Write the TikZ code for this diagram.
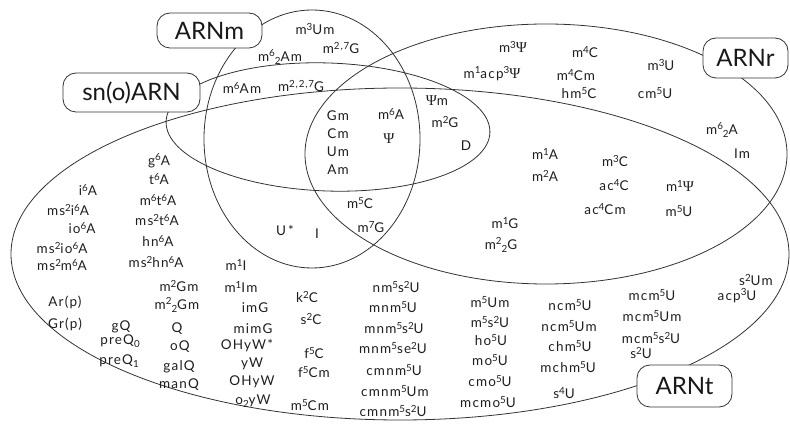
\documentclass[tikz,border=0pt]{standalone}
\usepackage{fontspec}
\setmainfont{Lato}
\newfontfamily\smallf[LetterSpace=9]{Lato}
\newfontfamily\psifont{Liberation Serif}
\newcommand\sps[1]{\raisebox{0.36em}{\fontsize{9.8}{10}\selectfont #1}}
\newcommand\sbs[1]{\raisebox{-0.22em}{\fontsize{9.8}{10}\selectfont #1}}
\newcommand\mypsi{{\psifont\fontsize{15}{15}\selectfont Ψ}}
\tikzset{
  ell/.style={draw=black!80, line width=0.8pt},
  lbl/.style={draw=black!80, line width=0.8pt, fill=white, rounded corners=13pt,
    font=\fontsize{24}{28}\selectfont, text=black!90, inner sep=0pt},
  txt/.style={font=\smallf\fontsize{13.5}{15}\selectfont, text=black!88, inner sep=0pt}
}
\begin{document}
\begin{tikzpicture}[x=1pt,y=-1pt]
\useasboundingbox (0,0) rectangle (790,427);
% ellipses
\draw[ell] (400,254) ellipse [x radius=389pt, y radius=166pt];
\draw[ell] (546,154) ellipse [x radius=241pt, y radius=130pt];
\draw[ell] (312,139) ellipse [x radius=108pt, y radius=129pt];
\draw[ell, rotate around={-2:(328,127)}] (328,127) ellipse [x radius=162pt, y radius=64pt];
% labels
\node[lbl, minimum width=105pt, minimum height=35pt] (arnm) at (209.5,30.5) {ARNm};
\node[lbl, minimum width=137pt, minimum height=39pt] (snoarn) at (131.5,92.5) {sn(o)ARN};
\node[lbl, minimum width=85pt, minimum height=40pt] (arnr) at (745.5,58) {ARNr};
\node[lbl, minimum width=95pt, minimum height=42pt] (arnt) at (684.5,386) {ARNt};
% top
\node[txt] (a1) at (315,29) {m\sps{3}Um};
\node[txt] (a2) at (341,48) {m\sps{2,7}G};
\node[txt] (a3) at (280,57) {m\sps{6}\sbs{2}Am};
\node[txt] (a4) at (242,88) {m\sps{6}Am};
\node[txt] (a5) at (301,86) {m\sps{2,2,7}G};
% top right
\node[txt] (b1) at (513,47) {m\sps{3}\mypsi};
\node[txt] (b2) at (585,52) {m\sps{4}C};
\node[txt] (b3) at (661,65) {m\sps{3}U};
\node[txt] (b4) at (492,74) {m\sps{1}acp\sps{3}\mypsi};
\node[txt] (b5) at (576,75) {m\sps{4}Cm};
\node[txt] (b6) at (579,93) {hm\sps{5}C};
\node[txt] (b7) at (655,93) {cm\sps{5}U};
% centre
\node[txt] (c1) at (437,101) {\mypsi m};
\node[txt] (c2) at (445,122) {m\sps{2}G};
\node[txt] (c3) at (466,146) {D};
\node[txt] (c4) at (338,116) {Gm};
\node[txt] (c5) at (338,134) {Cm};
\node[txt] (c6) at (338,152) {Um};
\node[txt] (c7) at (338,170) {Am};
\node[txt] (c8) at (391,114) {m\sps{6}A};
\node[txt] (c9) at (389,139) {\mypsi};
\node[txt] (c10) at (360,203) {m\sps{5}C};
\node[txt] (c11) at (371,227) {m\sps{7}G};
\node[txt] (c12) at (285,230) {U\,*};
\node[txt] (c13) at (317,234) {I};
% right middle
\node[txt] (d1) at (722,130) {m\sps{6}\sbs{2}A};
\node[txt] (d2) at (742,154) {Im};
\node[txt] (d3) at (545,154) {m\sps{1}A};
\node[txt] (d4) at (545,176) {m\sps{2}A};
\node[txt] (d5) at (615,161) {m\sps{3}C};
\node[txt] (d6) at (614,185) {ac\sps{4}C};
\node[txt] (d7) at (605,209) {ac\sps{4}Cm};
\node[txt] (d8) at (680,186) {m\sps{1}\mypsi};
\node[txt] (d9) at (679,211) {m\sps{5}U};
\node[txt] (d10) at (505,223) {m\sps{1}G};
\node[txt] (d11) at (501,245) {m\sps{2}\sbs{2}G};
% left
\node[txt] (e1) at (159,161) {g\sps{6}A};
\node[txt] (e2) at (159,179) {t\sps{6}A};
\node[txt] (e3) at (158,200) {m\sps{6}t\sps{6}A};
\node[txt] (e4) at (157,220) {ms\sps{2}t\sps{6}A};
\node[txt] (e5) at (158,241) {hn\sps{6}A};
\node[txt] (e6) at (156,262) {ms\sps{2}hn\sps{6}A};
\node[txt] (e7) at (88,190) {i\sps{6}A};
\node[txt] (e8) at (68,210) {ms\sps{2}i\sps{6}A};
\node[txt] (e9) at (82,228) {io\sps{6}A};
\node[txt] (e10) at (62,248) {ms\sps{2}io\sps{6}A};
\node[txt] (e11) at (62,265) {ms\sps{2}m\sps{6}A};
\node[txt] (e12) at (236,265) {m\sps{1}I};
\node[txt] (e13) at (179,286) {m\sps{2}Gm};
\node[txt] (e14) at (241,287) {m\sps{1}Im};
% bottom left
\node[txt] (f1) at (65,302) {Ar(p)};
\node[txt] (f2) at (65,324) {Gr(p)};
\node[txt] (f3) at (177,305) {m\sps{2}\sbs{2}Gm};
\node[txt] (f4) at (121,327) {gQ};
\node[txt] (f5) at (177,329) {Q};
\node[txt] (f6) at (120,341) {preQ\sbs{0}};
\node[txt] (f7) at (180,347) {oQ};
\node[txt] (f8) at (119,361) {preQ\sbs{1}};
\node[txt] (f9) at (179,367) {galQ};
\node[txt] (f10) at (179,385) {manQ};
\node[txt] (f11) at (255,308) {imG};
\node[txt] (f12) at (253,329) {mimG};
\node[txt] (f13) at (247,346) {OHyW*};
\node[txt] (f14) at (252,364) {yW};
\node[txt] (f15) at (252,382) {OHyW};
\node[txt] (f16) at (253,401) {o\sbs{2}yW};
\node[txt] (f17) at (307,297) {k\sps{2}C};
\node[txt] (f18) at (311,319) {s\sps{2}C};
\node[txt] (f19) at (314,353) {f\sps{5}C};
\node[txt] (f20) at (314,372) {f\sps{5}Cm};
\node[txt] (f21) at (310,405) {m\sps{5}Cm};
% bottom middle
\node[txt] (g1) at (396,287) {nm\sps{5}s\sps{2}U};
\node[txt] (g2) at (393,307) {mnm\sps{5}U};
\node[txt] (g3) at (394,328) {mnm\sps{5}s\sps{2}U};
\node[txt] (g4) at (393,348) {mnm\sps{5}se\sps{2}U};
\node[txt] (g5) at (394,370) {cmnm\sps{5}U};
\node[txt] (g6) at (395,391) {cmnm\sps{5}Um};
\node[txt] (g7) at (393,411) {cmnm\sps{5}s\sps{2}U};
\node[txt] (g8) at (490,302) {m\sps{5}Um};
\node[txt] (g9) at (490,322) {m\sps{5}s\sps{2}U};
\node[txt] (g10) at (491,340) {ho\sps{5}U};
\node[txt] (g11) at (490,360) {mo\sps{5}U};
\node[txt] (g12) at (490,381) {cmo\sps{5}U};
\node[txt] (g13) at (488,402) {mcmo\sps{5}U};
% bottom right
\node[txt] (h1) at (570,305) {ncm\sps{5}U};
\node[txt] (h2) at (569,326) {ncm\sps{5}Um};
\node[txt] (h3) at (570,346) {chm\sps{5}U};
\node[txt] (h4) at (568,367) {mchm\sps{5}U};
\node[txt] (h5) at (564,393) {s\sps{4}U};
\node[txt] (h6) at (652,295) {mcm\sps{5}U};
\node[txt] (h7) at (652,316) {mcm\sps{5}Um};
\node[txt] (h8) at (651,338) {mcm\sps{5}s\sps{2}U};
\node[txt] (h9) at (641,353) {s\sps{2}U};
\node[txt] (h10) at (756,280) {s\sps{2}Um};
\node[txt] (h11) at (737,296) {acp\sps{3}U};
\end{tikzpicture}
\end{document}
